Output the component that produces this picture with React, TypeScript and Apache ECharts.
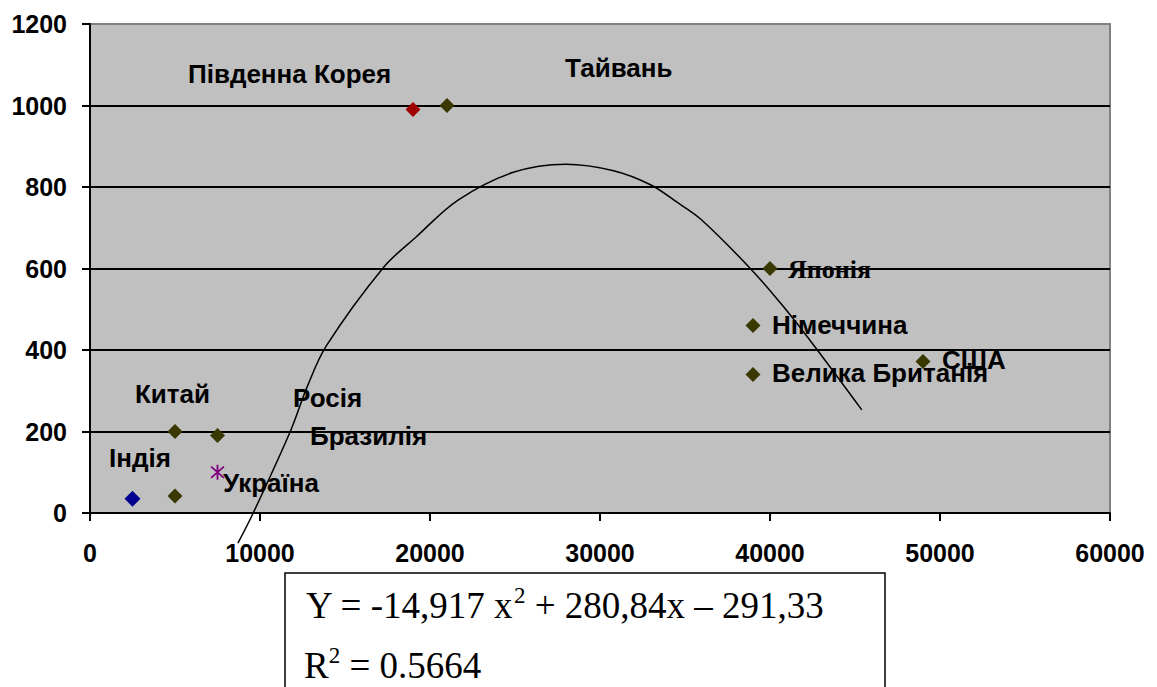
import React, { useEffect, useRef } from "react";
import * as echarts from "echarts";

// ---- data ----
const olivePoints: [number, number][] = [
  [5000, 200],
  [5000, 42],
  [7500, 190],
  [21000, 1000],
  [40000, 600],
  [39000, 460],
  [39000, 340],
  [49000, 372],
];
const indiaPoint: [number, number][] = [[2500, 35]];
const koreaPoint: [number, number][] = [[19000, 990]];
const ukrainePoint: [number, number][] = [[7500, 100]];

const trendX = [8700, 9600, 11800, 12750, 13900, 17250, 19200, 21650, 24900, 28000, 30800, 33000, 34550, 35900, 38800, 40800, 42750, 45400];
const trendY = [-74, 0, 202, 307, 410, 602, 678, 768, 836, 856, 840, 805, 762, 722, 602, 506, 402, 253];

const xTicks = { min: 0, max: 60000, interval: 10000 };
const yTicks = { min: 0, max: 1200, interval: 200 };

const labelNames = ["Південна Корея", "Тайвань", "Японія", "Німеччина", "Велика Британія", "США", "Китай", "Росія", "Бразилія", "Індія", "Україна"];
// label layout (pixel left, pixel middle)
const labelLayout: [number, number][] = [
  [188, 74], [565, 68], [788, 269], [772, 325], [772, 373], [942, 360],
  [135, 394], [293, 398], [310, 436], [109, 458], [223, 483],
];

const equationText = "Y = -14,917 x";
const equationRest = " + 280,84x – 291,33";
const r2Value = "0.5664";

const STAR =
  "path://M-1,-8L1,-8L1,8L-1,8Z M-6.35,-6.76L7.65,5.24L6.35,6.76L-7.65,-5.24Z M-7.65,5.24L6.35,-6.76L7.65,-5.24L-6.35,6.76Z";

export default function App() {
  const ref = useRef<HTMLDivElement>(null);
  useEffect(() => {
    if (!ref.current) return;
    const chart = echarts.init(ref.current, undefined, { renderer: "svg" });
    const sans = "'Liberation Sans', Arial, sans-serif";
    const serif = "'Liberation Serif', 'Times New Roman', serif";
    const labelGraphics = labelNames.map((n, i) => ({
      type: "text",
      x: labelLayout[i][0],
      y: labelLayout[i][1],
      z: 100,
      style: {
        text: n,
        fill: "#000",
        font: n === "Японія" ? `bold 26px ${serif}` : `bold 26px ${sans}`,
        verticalAlign: "middle",
        align: "left",
      },
    }));
    const tickLabel = {
      color: "#000",
      fontSize: 25,
      fontWeight: "bold",
      fontFamily: sans,
      formatter: (v: number) => String(v),
    };
    chart.setOption({
      animation: false,
      backgroundColor: "#fff",
      grid: {
        left: 90,
        top: 24,
        right: 47,
        bottom: 174,
        show: true,
        backgroundColor: "#C0C0C0",
        borderColor: "#808080",
        borderWidth: 2,
      },
      xAxis: {
        type: "value",
        ...xTicks,
        axisLine: { show: true, lineStyle: { color: "#000", width: 2 } },
        axisTick: { show: true, length: 8, lineStyle: { color: "#000", width: 2 } },
        axisLabel: { ...tickLabel, margin: 27 },
        splitLine: { show: false },
      },
      yAxis: {
        type: "value",
        ...yTicks,
        axisLine: { show: true, lineStyle: { color: "#000", width: 2 } },
        axisTick: { show: true, length: 8, lineStyle: { color: "#000", width: 2 } },
        axisLabel: { ...tickLabel, margin: 23 },
        splitLine: {
          show: true,
          lineStyle: { color: ["#000", "#000", "#000", "#000", "#000", "#000", "#808080"], width: 2 },
        },
      },
      series: [
        {
          type: "line",
          data: trendX.map((x, i) => [x, trendY[i]]),
          smooth: 0.35,
          showSymbol: false,
          clip: false,
          lineStyle: { color: "#000", width: 1.5 },
          z: 3,
        },
        {
          type: "scatter",
          data: olivePoints,
          symbol: "diamond",
          symbolSize: 15,
          itemStyle: { color: "#383800", opacity: 1 },
          z: 4,
        },
        {
          type: "scatter",
          data: indiaPoint,
          symbol: "diamond",
          symbolSize: 16,
          itemStyle: { color: "#000090", opacity: 1 },
          z: 4,
        },
        {
          type: "scatter",
          data: koreaPoint,
          symbol: "diamond",
          symbolSize: 15,
          itemStyle: { color: "#a00000", opacity: 1 },
          z: 4,
        },
        {
          type: "scatter",
          data: ukrainePoint,
          symbol: STAR,
          symbolSize: [14, 15],
          itemStyle: { color: "#800080", opacity: 1 },
          z: 4,
        },
      ],
      graphic: [
        ...labelGraphics,
        {
          type: "rect",
          shape: { x: 285, y: 573, width: 600, height: 130 },
          style: { fill: "#fff", stroke: "#000", lineWidth: 1.5 },
          z: 100,
        },
        {
          type: "text",
          x: 306,
          y: 605,
          z: 101,
          style: {
            text: `{n|${equationText}}{s|2}{n|${equationRest}}`,
            verticalAlign: "middle",
            rich: {
              n: { fontSize: 37, fontFamily: serif, fill: "#000", lineHeight: 42 },
              s: { fontSize: 23, fontFamily: serif, fill: "#000", verticalAlign: "top" },
            },
          },
        },
        {
          type: "text",
          x: 304,
          y: 665,
          z: 101,
          style: {
            text: `{n|R}{s|2}{n| = ${r2Value}}`,
            verticalAlign: "middle",
            rich: {
              n: { fontSize: 37, fontFamily: serif, fill: "#000", lineHeight: 42 },
              s: { fontSize: 23, fontFamily: serif, fill: "#000", verticalAlign: "top" },
            },
          },
        },
      ],
    });
    return () => chart.dispose();
  }, []);
  return (
    <div
      ref={ref}
      style={{ position: "absolute", left: 0, top: 0, width: 1157, height: 687 }}
    />
  );
}
